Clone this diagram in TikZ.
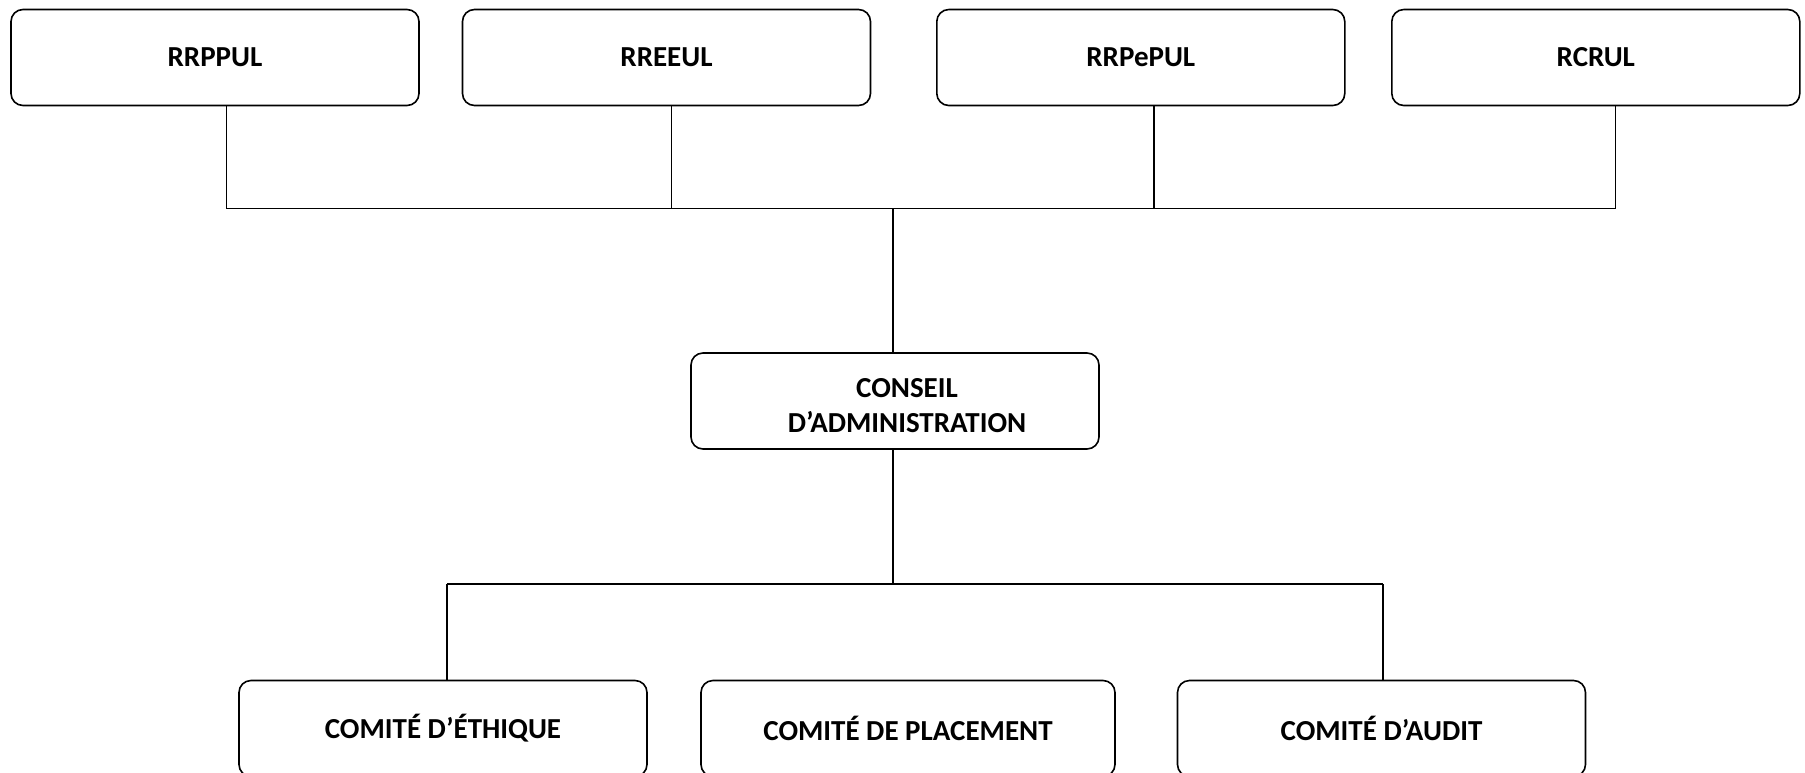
\documentclass[tikz,border=0pt]{standalone}
\usepackage{fontspec}
\setmainfont{Carlito}
\begin{document}
\begin{tikzpicture}[x=1pt,y=-1pt,
  orgbox/.style={draw=black, line width=1.6pt, rounded corners=12pt, minimum width=408pt, minimum height=96pt, inner sep=0pt, font=\fontsize{29}{35}\selectfont\bfseries, align=center},
  conn/.style={draw=black, line width=1.5pt}]
\useasboundingbox (0,0) rectangle (1805,772);
% top row
\node[orgbox] (b1) at (215,57.5) {RRPPUL};
\node[orgbox] (b2) at (666.5,57.5) {RREEUL};
\node[orgbox] (b3) at (1140.8,57.5) {RRPePUL};
\node[orgbox] (b4) at (1595.8,57.5) {RCRUL};
% middle
\node[orgbox] (ca) at (895,401) {};
\node[font=\fontsize{29}{35}\selectfont\bfseries, align=center, inner sep=0pt] (cat) at (907,406) {CONSEIL\\D’ADMINISTRATION};
% bottom row
\node[orgbox] (c1) at (443,728.5) {COMITÉ D’ÉTHIQUE};
\node[orgbox, minimum width=414pt] (c2) at (908,728.5) {COMITÉ DE PLACEMENT};
\node[orgbox] (c3) at (1381.5,728.5) {COMITÉ D’AUDIT};
% junctions
\coordinate (t1) at (226.5,208.5);
\coordinate (t2) at (671.5,208.5);
\coordinate (t3) at (1154,208.5);
\coordinate (t4) at (1615.5,208.5);
\coordinate (tm) at (893,208.5);
\coordinate (u1) at (447,584);
\coordinate (um) at (893,584);
\coordinate (u3) at (1383,584);
\path[conn] (b1.south -| t1) -- (t1);
\path[conn] (b2.south -| t2) -- (t2);
\path[conn] (b3.south -| t3) -- (t3);
\path[conn] (b4.south -| t4) -- (t4);
\path[conn] (t1) -- (t4);
\path[conn] (tm) -- (ca.north -| tm);
\path[conn] (ca.south -| um) -- (um);
\path[conn] (u1) -- (u3);
\path[conn] (u1) -- (c1.north -| u1);
\path[conn] (u3) -- (c3.north -| u3);
\end{tikzpicture}
\end{document}
